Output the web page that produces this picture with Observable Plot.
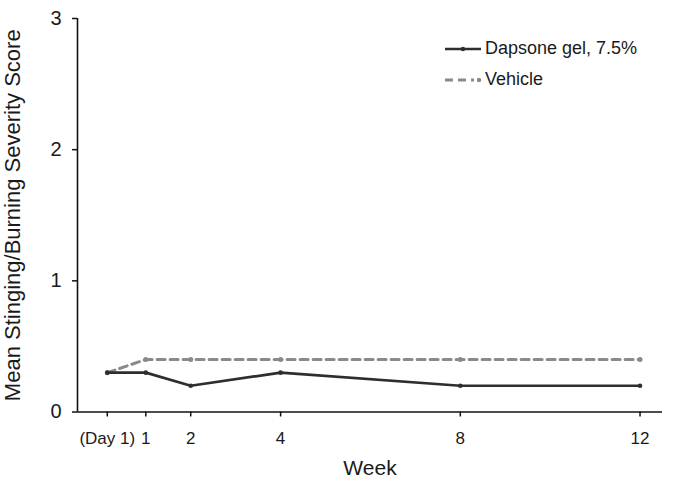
<!DOCTYPE html>
<html>
<head>
<meta charset="utf-8">
<script src="https://cdn.jsdelivr.net/npm/d3@7"></script>
<script src="https://cdn.jsdelivr.net/npm/@observablehq/plot@0.6"></script>
<style>
  html, body { margin: 0; padding: 0; background: #fff; }
  #wrap { position: relative; width: 689px; height: 483px; font-family: "Liberation Sans", Arial, sans-serif; color: #1a1a1a; }
  #wrap svg text { fill: #1a1a1a; }
  #wrap [aria-label="y-axis label"] text, #wrap [aria-label="y-axis label"] { font-size: 22px; }
  #wrap [aria-label="x-axis label"] text, #wrap [aria-label="x-axis label"] { font-size: 21px; }
  #wrap [aria-label="y-axis tick label"] text, #wrap [aria-label="y-axis tick label"] { font-size: 20px; }
  #wrap [aria-label="x-axis tick label"] text, #wrap [aria-label="x-axis tick label"] { font-size: 17px; }
  .legend { position: absolute; left: 444px; top: 33px; font-size: 18px; line-height: 31px; }
  .legend div { display: flex; align-items: center; }
  .legend svg { margin-right: 3px; }
</style>
</head>
<body>
<div id="wrap"></div>
<script>
// Data
const weeks = [0.143, 1, 2, 4, 8, 12];
const tickLabels = ["(Day 1)", "1", "2", "4", "8", "12"];
const dapsone = [0.3, 0.3, 0.2, 0.3, 0.2, 0.2];
const vehicle = [0.3, 0.4, 0.4, 0.4, 0.4, 0.4];
const seriesNames = ["Dapsone gel, 7.5%", "Vehicle"];
const yTicks = [0, 1, 2, 3];

const dapsoneColor = "#2e2e2e";
const vehicleColor = "#8a8a8a";

const rows = [];
weeks.forEach((w, i) => {
  rows.push({week: w, value: dapsone[i], series: seriesNames[0]});
  rows.push({week: w, value: vehicle[i], series: seriesNames[1]});
});
const dRows = rows.filter(d => d.series === seriesNames[0]);
const vRows = rows.filter(d => d.series === seriesNames[1]);

const chart = Plot.plot({
  width: 689,
  height: 483,
  marginLeft: 77,
  marginRight: 27,
  marginTop: 18,
  marginBottom: 71.5,
  style: {fontFamily: "'Liberation Sans', Arial, sans-serif", background: "#fff"},
  x: {domain: [-0.52, 12.5]},
  y: {domain: [0, 3]},
  marks: [
    Plot.axisY({ticks: yTicks, tickSize: 5, tickPadding: 11, fontSize: 20, tickFormat: d => String(d),
      label: "Mean Stinging/Burning Severity Score", labelAnchor: "center", labelArrow: "none", labelOffset: 73,
      stroke: "#111", strokeWidth: 1.5}),
    Plot.axisX({ticks: weeks, tickSize: 5, tickPadding: 15, fontSize: 17,
      tickFormat: (d) => tickLabels[weeks.indexOf(d)],
      label: "Week", labelAnchor: "center", labelArrow: "none", labelOffset: 63,
      stroke: "#111", strokeWidth: 1.5}),
    Plot.ruleY([0], {stroke: "#111", strokeWidth: 1.6}),
    Plot.ruleX([-0.52], {stroke: "#111", strokeWidth: 1.6}),
    Plot.line(vRows, {x: "week", y: "value", stroke: vehicleColor, strokeWidth: 3, strokeDasharray: "8,5"}),
    Plot.dot(vRows, {x: "week", y: "value", r: 2.5, fill: vehicleColor}),
    Plot.line(dRows, {x: "week", y: "value", stroke: dapsoneColor, strokeWidth: 2.7}),
    Plot.dot(dRows, {x: "week", y: "value", r: 2.3, fill: dapsoneColor})
  ]
});

const wrap = document.getElementById("wrap");
wrap.appendChild(chart);

// Legend (HTML)
const legend = document.createElement("div");
legend.className = "legend";
legend.innerHTML = `
  <div><svg width="38" height="10"><line x1="1" y1="5" x2="37" y2="5" stroke="${dapsoneColor}" stroke-width="2.7"/><circle cx="19" cy="5" r="2.2" fill="${dapsoneColor}"/></svg><span>${seriesNames[0]}</span></div>
  <div><svg width="38" height="10"><line x1="1" y1="5" x2="30" y2="5" stroke="${vehicleColor}" stroke-width="3" stroke-dasharray="8,5"/><circle cx="35" cy="5" r="2.2" fill="${vehicleColor}"/></svg><span>${seriesNames[1]}</span></div>
`;
wrap.appendChild(legend);
</script>
</body>
</html>
